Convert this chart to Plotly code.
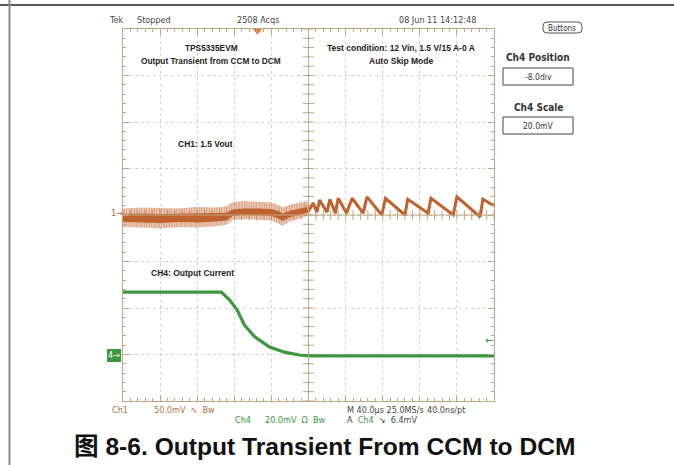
import plotly.graph_objects as go

# ── Scope capture values (time in µs, amplitude in divisions) ─────────────

# CH1 (1.5 Vout, 50 mV/div): noisy CCM part drawn as an envelope band
ch1_band_t = [0, 20, 40, 60, 80, 100, 112, 118, 130, 145, 160, 168, 172, 180, 190, 199]
ch1_core_hi = [0.02, 0.03, 0.02, 0.03, 0.03, 0.04, 0.05, 0.12, 0.14, 0.14, 0.13, 0.08, 0.03, 0.09, 0.14, 0.18]
ch1_core_lo = [-0.15, -0.16, -0.17, -0.15, -0.16, -0.14, -0.12, -0.02, 0.00, -0.01, -0.02, -0.08, -0.13, -0.05, 0.00, 0.05]
ch1_spike_hi = [0.14, 0.16, 0.15, 0.14, 0.17, 0.16, 0.19, 0.28, 0.30, 0.28, 0.27, 0.21, 0.16, 0.22, 0.27, 0.30]
ch1_spike_lo = [-0.26, -0.27, -0.29, -0.26, -0.27, -0.24, -0.21, -0.11, -0.09, -0.10, -0.12, -0.19, -0.23, -0.14, -0.07, -0.02]

# CH1 skip-mode ripple (sawtooth)
ch1_saw_t = [199, 205, 209, 212, 220, 223, 229, 232, 241, 247, 259, 263, 279, 283,
             304, 307, 329, 332, 356, 360, 385, 388, 400]
ch1_saw_v = [0.05, 0.26, 0.06, 0.32, 0.06, 0.34, 0.04, 0.36, 0.04, 0.36, 0.04, 0.39, 0.00, 0.36,
             0.00, 0.34, 0.04, 0.36, 0.00, 0.39, -0.04, 0.34, 0.20]

# CH4 (output current, 20 mV/div)
ch4_t = [0, 106, 115, 123, 131, 142, 158, 174, 190, 201, 400]
ch4_v = [-1.66, -1.66, -1.83, -2.04, -2.37, -2.62, -2.84, -2.95, -3.01, -3.03, -3.03]

trigger_t = 145

# ── Layout geometry (pixels of the 674x465 page) ─────────────────────────
L, R, T, B = 123, 494, 29, 401
W, H = R - L, B - T


def fx(x):
    return (x - L) / W


def fy(y):
    return (B - y) / H


ORANGE = "#c0622e"
GREEN = "#3a973c"
TAN = "#bfa580"
GRID = "#d2d2d2"
NARROW = "Liberation Sans Narrow, DejaVu Sans Condensed, Arial Narrow, sans-serif"
SANS = "Liberation Sans, Arial, sans-serif"

fig = go.Figure()

# center cross tick marks of the graticule
fig.add_trace(go.Scatter(
    x=[i * 8 for i in range(51)], y=[0] * 51, mode="markers",
    marker=dict(symbol="line-ns", size=7, line=dict(color=TAN, width=1)),
    hoverinfo="skip", showlegend=False))
fig.add_trace(go.Scatter(
    x=[200] * 41, y=[-4 + i * 0.2 for i in range(41)], mode="markers",
    marker=dict(symbol="line-ew", size=8, line=dict(color=TAN, width=1)),
    hoverinfo="skip", showlegend=False))

# CH1 noisy band: hatched outer spikes + solid dense core
fig.add_trace(go.Scatter(
    x=ch1_band_t + ch1_band_t[::-1], y=ch1_spike_hi + ch1_spike_lo[::-1],
    fill="toself", fillcolor="rgba(0,0,0,0)", line=dict(width=0),
    fillpattern=dict(shape="|", fgcolor=ORANGE, bgcolor="rgba(214,150,110,0.35)",
                     size=2.5, solidity=0.55),
    mode="lines", hoverinfo="skip", showlegend=False))
fig.add_trace(go.Scatter(
    x=ch1_band_t + ch1_band_t[::-1], y=ch1_core_hi + ch1_core_lo[::-1],
    fill="toself", fillcolor=ORANGE, line=dict(width=0),
    mode="lines", hoverinfo="skip", showlegend=False))
fig.add_trace(go.Scatter(
    x=ch1_saw_t, y=ch1_saw_v, mode="lines",
    line=dict(color=ORANGE, width=3), hoverinfo="skip", showlegend=False))

# CH4 current
fig.add_trace(go.Scatter(
    x=ch4_t, y=ch4_v, mode="lines",
    line=dict(color=GREEN, width=3.2), hoverinfo="skip", showlegend=False))

# trigger position marker
fig.add_trace(go.Scatter(
    x=[trigger_t], y=[3.96], mode="markers", cliponaxis=False,
    marker=dict(symbol="triangle-down", size=8, color="#e8782a"),
    hoverinfo="skip", showlegend=False))

shapes = [
    dict(type="line", xref="x", yref="paper", x0=200, x1=200, y0=0, y1=1,
         line=dict(color=TAN, width=1)),
    dict(type="line", xref="paper", yref="y", x0=0, x1=1, y0=0, y1=0,
         line=dict(color=TAN, width=1)),
    # page frame
    dict(type="line", xref="paper", yref="paper", x0=fx(0), x1=fx(674), y0=fy(5), y1=fy(5),
         line=dict(color="#222222", width=1.5)),
    dict(type="line", xref="paper", yref="paper", x0=fx(9.5), x1=fx(9.5), y0=fy(0), y1=fy(465),
         line=dict(color="#8a8a8a", width=2)),
    # right-hand menu boxes
    dict(type="rect", xref="paper", yref="paper", x0=fx(503), x1=fx(573), y0=fy(68), y1=fy(85),
         line=dict(color="#444444", width=1), fillcolor="white"),
    dict(type="rect", xref="paper", yref="paper", x0=fx(503), x1=fx(573), y0=fy(117), y1=fy(134),
         line=dict(color="#444444", width=1), fillcolor="white"),
]

# rounded "Buttons" pill
bx0, bx1, by0, by1, r = fx(543), fx(582), fy(33), fy(22), 4
rx, ry = r / W, r / H
shapes.append(dict(
    type="path", xref="paper", yref="paper",
    path=(f"M {bx0 + rx} {by0} L {bx1 - rx} {by0} Q {bx1} {by0} {bx1} {by0 + ry} "
          f"L {bx1} {by1 - ry} Q {bx1} {by1} {bx1 - rx} {by1} L {bx0 + rx} {by1} "
          f"Q {bx0} {by1} {bx0} {by1 - ry} L {bx0} {by0 + ry} Q {bx0} {by0} {bx0 + rx} {by0} Z"),
    line=dict(color="#555555", width=1)))

# CH4 ground marker box
shapes.append(dict(type="rect", xref="paper", yref="paper", x0=fx(107), x1=fx(121),
                   y0=fy(362), y1=fy(349), fillcolor=GREEN, line=dict(width=0)))


def txt(x, y, text, size=9, color="#333333", family=NARROW, anchor="center"):
    return dict(x=fx(x), y=fy(y), xref="paper", yref="paper", text=text,
                showarrow=False, xanchor=anchor, yanchor="middle",
                font=dict(size=size, color=color, family=family))


annotations = [
    # status bar
    txt(107, 20, "Tek", 9, "#444444", anchor="left"),
    txt(135, 20, "Stopped", 9, "#444444", anchor="left"),
    txt(258, 20, "2508 Acqs", 9, "#444444"),
    txt(437, 20, "08 Jun 11 14:12:48", 9, "#444444"),
    # on-screen notes
    txt(211, 48, "<b>TPS5335EVM</b>", 8.3, "#222222", SANS),
    txt(211, 61, "<b>Output Transient from CCM to DCM</b>", 8.3, "#222222", SANS),
    txt(401, 48, "<b>Test condition: 12 Vin, 1.5 V/15 A-0 A</b>", 8.5, "#222222", SANS),
    txt(401, 61, "<b>Auto Skip Mode</b>", 8.5, "#222222", SANS),
    txt(205, 144, "<b>CH1: 1.5 Vout</b>", 8.5, "#222222", SANS),
    txt(149, 273, "<b>CH4: Output Current</b>", 8.5, "#222222", SANS, anchor="left"),
    # channel markers
    txt(117, 213, "1→", 9, ORANGE),
    txt(114, 355, "4→", 9, "white"),
    txt(489, 340, "←", 11, GREEN),
    # right menu
    txt(562, 28, "Buttons", 8, "#333333"),
    txt(538, 57, "<b>Ch4 Position</b>", 10, "#333333"),
    txt(538, 76.5, "-8.0div", 8.5, "#333333"),
    txt(538, 107, "<b>Ch4 Scale</b>", 10, "#333333"),
    txt(538, 125.5, "20.0mV", 8.5, "#333333"),
    # readouts
    txt(110, 410, "Ch1", 9, "#b0703a", anchor="left"),
    txt(152, 410, "50.0mV  ∿  Bw", 9, "#b0703a", anchor="left"),
    txt(233, 420, "Ch4", 9, GREEN, anchor="left"),
    txt(263, 420, "20.0mV  Ω  Bw", 9, GREEN, anchor="left"),
    txt(345, 410, "M 40.0µs 25.0MS/s", 9, "#444444", anchor="left"),
    txt(425, 410, "40.0ns/pt", 9, "#444444", anchor="left"),
    txt(345, 420, "A  <span style='color:" + GREEN + "'>Ch4</span>  ↘  6.4mV", 9, "#444444", anchor="left"),
    # caption
    txt(324, 447, "<b>图 8-6. Output Transient From CCM to DCM</b>", 24.6, "#111111",
        "Liberation Sans, Arial, Noto Sans CJK SC, sans-serif"),
]

axis_common = dict(
    showticklabels=False, showline=True, linecolor=TAN, linewidth=1, mirror="allticks",
    ticks="inside", ticklen=6, tickcolor=TAN, zeroline=False,
    showgrid=True, gridcolor=GRID, griddash="dot", gridwidth=1,
    fixedrange=True,
)

fig.update_layout(
    width=674, height=465,
    margin=dict(l=L, r=674 - R, t=T, b=465 - B),
    paper_bgcolor="white", plot_bgcolor="white",
    shapes=shapes, annotations=annotations,
    xaxis=dict(range=[0, 400], dtick=40, tick0=0,
               minor=dict(dtick=8, ticks="inside", ticklen=3, tickcolor=TAN, showgrid=False),
               **axis_common),
    yaxis=dict(range=[-4, 4], dtick=1, tick0=0,
               minor=dict(dtick=0.2, ticks="inside", ticklen=3, tickcolor=TAN, showgrid=False),
               **axis_common),
    showlegend=False,
)

# drop the browser's default 8px body margin so the page lines up with the window
fig.write_html("out.html", config={"displayModeBar": False},
               post_script="document.body.style.margin = '0';")
